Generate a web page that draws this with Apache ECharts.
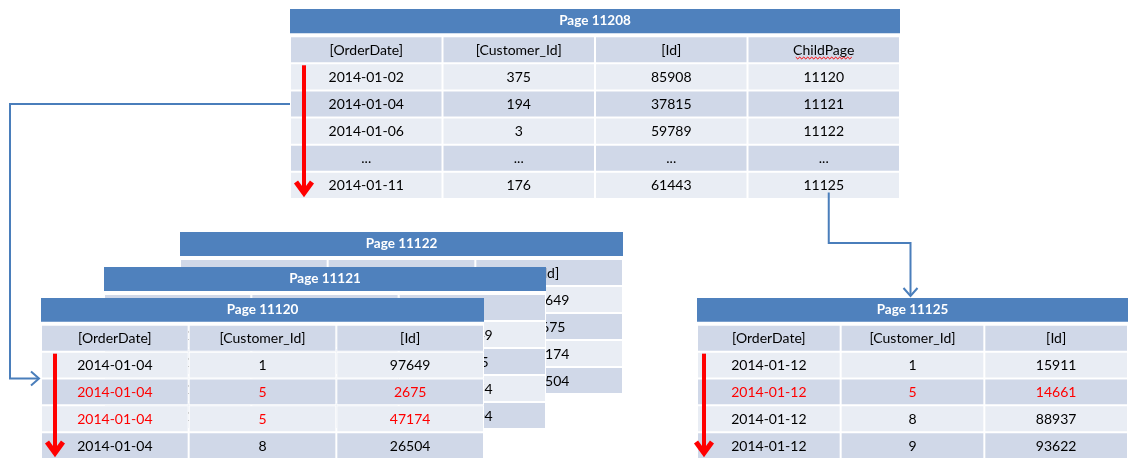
<!DOCTYPE html>
<html>
<head>
<meta charset="utf-8">
<script src="https://cdn.jsdelivr.net/npm/echarts@6/dist/echarts.min.js"></script>
<style>
html, body { margin: 0; padding: 0; background: #fff; }
#chart_pages { width: 1128px; height: 459px; }
</style>
</head>
<body>
<div id="chart_pages"></div>
<script>
// root (non-leaf) page
const rootTitle = 'Page 11208'
const rootColumns = ['[OrderDate]', '[Customer_Id]', '[Id]', 'ChildPage']
const rootOrderDate = ['2014-01-02', '2014-01-04', '2014-01-06', '...', '2014-01-11']
const rootCustomerId = ['375', '194', '3', '...', '176']
const rootId = ['85908', '37815', '59789', '...', '61443']
const rootChildPage = ['11120', '11121', '11122', '...', '11125']

// leaf pages
const leafColumns = ['[OrderDate]', '[Customer_Id]', '[Id]']
const page11120OrderDate = ['2014-01-04', '2014-01-04', '2014-01-04', '2014-01-04']
const page11120CustomerId = ['1', '5', '5', '8']
const page11120Id = ['97649', '2675', '47174', '26504']
const page11120Red = [false, true, true, false]
// 11121 and 11122 sit behind 11120, only their right edge shows (same rows there)
const page11121Id = ['97649', '2675', '47174', '26504']
const page11122Id = ['97649', '2675', '47174', '26504']
const page11125OrderDate = ['2014-01-12', '2014-01-12', '2014-01-12', '2014-01-12']
const page11125CustomerId = ['1', '5', '8', '9']
const page11125Id = ['15911', '14661', '88937', '93622']
const page11125Red = [false, true, false, false]

const BLUE = '#4F81BD'
const DARK = '#D0D8E8'
const LIGHT = '#E9EDF4'
const LINK = '#4A7EBB'
const FONT = 'Lato'

function buildCells(title, columns, cols, red) {
  let cells = [{ col: 0, row: 0, kind: 'title', text: title, span: columns.length }]
  columns.forEach((c, i) => cells.push({ col: i, row: 1, kind: 'head', text: c }))
  for (let r = 0; r < cols[0].length; r++) {
    columns.forEach((c, i) => {
      cells.push({
        col: i,
        row: r + 2,
        kind: r % 2 ? 'dark' : 'light',
        text: cols[i][r],
        red: red ? red[r] : false
      })
    })
  }
  return cells
}

function rowNames(cells) {
  let n = 0
  cells.forEach(c => { n = Math.max(n, c.row) })
  let names = []
  for (let i = 0; i <= n; i++) names.push('r' + i)
  return names
}

function tableSeries(idx, cells, z) {
  return {
    type: 'custom',
    xAxisIndex: idx,
    yAxisIndex: idx,
    z: z,
    silent: true,
    animation: false,
    data: cells.map(c => [c.col, c.row]),
    renderItem: function (params, api) {
      const cell = cells[params.dataIndex]
      const p = api.coord([api.value(0), api.value(1)])
      const size = api.size([1, 1])
      const w = size[0]
      const h = size[1]
      const x = p[0] - w / 2
      const y = p[1] - h / 2
      if (cell.kind === 'title') {
        return {
          type: 'group',
          children: [
            // white gutter is opaque so the pages behind stay hidden
            { type: 'rect', shape: { x: x, y: y, width: w * cell.span, height: h + 1 }, style: { fill: '#fff' } },
            { type: 'rect', shape: { x: x, y: y, width: w * cell.span, height: h - 3 }, style: { fill: BLUE } },
            {
              type: 'text',
              style: {
                text: cell.text, x: x + w * cell.span / 2, y: y + (h - 3) / 2,
                align: 'center', verticalAlign: 'middle',
                fill: '#fff', fontFamily: FONT, fontWeight: 'bold', fontSize: 13.5
              }
            }
          ]
        }
      }
      const fill = cell.kind === 'light' ? LIGHT : DARK
      return {
        type: 'group',
        children: [
          { type: 'rect', shape: { x: x, y: y, width: w, height: h }, style: { fill: '#fff' } },
          { type: 'rect', shape: { x: x + 1, y: y + 1, width: w - 2, height: h - 2 }, style: { fill: fill } },
          {
            type: 'text',
            style: {
              text: cell.text, x: p[0], y: p[1] + 0.5,
              align: 'center', verticalAlign: 'middle',
              fill: cell.red ? '#FF0000' : '#000', fontFamily: FONT, fontSize: 14
            }
          }
        ]
      }
    }
  }
}

// order = drawing stack (back to front)
const tables = [
  { cells: buildCells('Page 11122', leafColumns, [page11120OrderDate, page11120CustomerId, page11122Id]), grid: { left: 180, top: 232, width: 443, height: 162 }, z: 2 },
  { cells: buildCells('Page 11121', leafColumns, [page11120OrderDate, page11120CustomerId, page11121Id]), grid: { left: 104, top: 267, width: 442, height: 162 }, z: 3 },
  { cells: buildCells('Page 11120', leafColumns, [page11120OrderDate, page11120CustomerId, page11120Id], page11120Red), grid: { left: 41, top: 298, width: 443, height: 162 }, z: 4 },
  { cells: buildCells('Page 11125', leafColumns, [page11125OrderDate, page11125CustomerId, page11125Id], page11125Red), grid: { left: 697, top: 298, width: 444, height: 162 }, z: 4 },
  { cells: buildCells(rootTitle, rootColumns, [rootOrderDate, rootCustomerId, rootId, rootChildPage]), grid: { left: 290, top: 9, width: 610, height: 190 }, z: 5 }
]

const chart = echarts.init(document.getElementById('chart_pages'))

chart.setOption({
  animation: false,
  backgroundColor: '#fff',
  grid: tables.map(t => Object.assign({ containLabel: false }, t.grid)),
  xAxis: tables.map((t, i) => ({
    type: 'category', gridIndex: i, show: false,
    data: (t.cells[0].span === 4 ? rootColumns : leafColumns)
  })),
  yAxis: tables.map((t, i) => ({
    type: 'category', gridIndex: i, show: false, inverse: true,
    data: rowNames(t.cells)
  })),
  series: tables.map((t, i) => tableSeries(i, t.cells, t.z))
})

// connectors and scan arrows, placed from the table scales
const ROOT = 4, P11120 = 2, P11125 = 3

function cellBox(g, col, row) {
  const p = chart.convertToPixel({ gridIndex: g }, [col, row])
  const q = chart.convertToPixel({ gridIndex: g }, [col + 1 < tables[g].cells[0].span ? col + 1 : col - 1, row + 1])
  const w = Math.abs(q[0] - p[0])
  const h = Math.abs(q[1] - p[1])
  return { cx: p[0], cy: p[1], w: w, h: h, left: p[0] - w / 2, top: p[1] - h / 2, right: p[0] + w / 2, bottom: p[1] + h / 2 }
}

function scanArrow(g, offset, firstRow, lastRow) {
  const a = cellBox(g, 0, firstRow)
  const b = cellBox(g, 0, lastRow)
  const x = a.left + offset
  const y0 = a.top + 2
  const tip = b.bottom - 5
  return [
    { type: 'line', z: 100, shape: { x1: x, y1: y0, x2: x, y2: tip - 3 }, style: { stroke: '#FF0000', lineWidth: 4 } },
    {
      type: 'polyline', z: 100,
      shape: { points: [[x - 8, tip - 12], [x, tip - 1], [x + 8, tip - 12]] },
      style: { stroke: '#FF0000', lineWidth: 5, lineJoin: 'miter', fill: null }
    }
  ]
}

const rootRow2 = cellBox(ROOT, 0, 3)
const leftTarget = cellBox(P11120, 0, 2)
const childCell = cellBox(ROOT, 3, 6)
const rightTarget = cellBox(P11125, 1, 0)
const headChild = cellBox(ROOT, 3, 1)

const x1 = leftTarget.left - 2
const yL = leftTarget.bottom
const xTurn = 10
const xc = childCell.cx + 5
const yMid = childCell.bottom + 44
const xr = rightTarget.cx - 2
const yr = rightTarget.top - 2

let wave = []
for (let i = 0; i <= 28; i++) {
  wave.push([headChild.cx - 28 + i * 2, headChild.cy + 8 + (i % 2 ? 1.2 : -0.6)])
}

chart.setOption({
  graphic: [
    { type: 'polyline', z: 90, shape: { points: [[rootRow2.left, rootRow2.cy], [xTurn, rootRow2.cy], [xTurn, yL], [x1, yL]] }, style: { stroke: LINK, lineWidth: 2, fill: null } },
    { type: 'polyline', z: 90, shape: { points: [[x1 - 8, yL - 7], [x1, yL], [x1 - 8, yL + 7]] }, style: { stroke: LINK, lineWidth: 2, fill: null } },
    { type: 'polyline', z: 90, shape: { points: [[xc, childCell.cy + 7], [xc, yMid], [xr, yMid], [xr, yr]] }, style: { stroke: LINK, lineWidth: 2, fill: null } },
    { type: 'polyline', z: 90, shape: { points: [[xr - 7, yr - 8], [xr, yr], [xr + 7, yr - 8]] }, style: { stroke: LINK, lineWidth: 2, fill: null } },
    { type: 'polyline', z: 90, shape: { points: wave }, style: { stroke: '#FF0000', lineWidth: 1, fill: null } }
  ]
    .concat(scanArrow(ROOT, 14, 2, 6))
    .concat(scanArrow(P11120, 14, 2, 5))
    .concat(scanArrow(P11125, 7, 2, 5))
})
</script>
</body>
</html>
